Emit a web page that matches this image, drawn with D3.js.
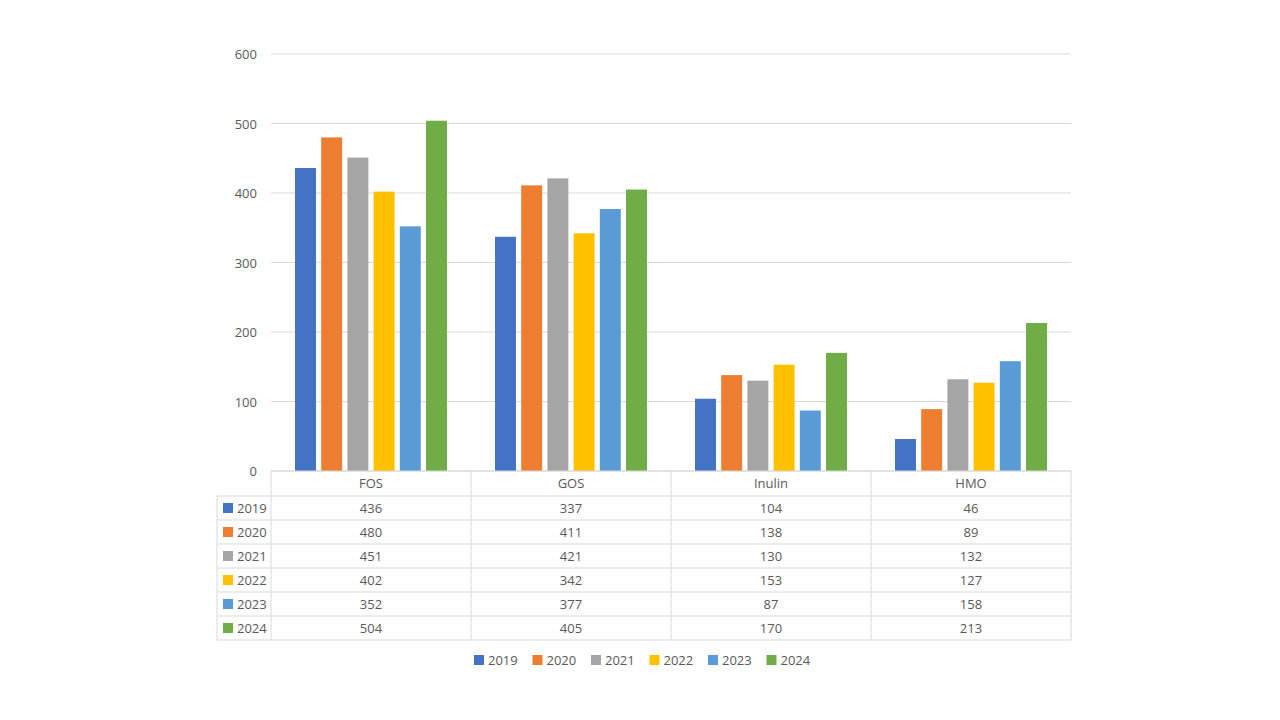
<!DOCTYPE html>
<html><head><meta charset="utf-8">
<script src="https://cdn.jsdelivr.net/npm/d3@7"></script>
<style>body{margin:0;background:#fff;font-family:"Open Sans",sans-serif;}</style>
</head><body><div class="chart"></div>
<script>
const categories = ['FOS', 'GOS', 'Inulin', 'HMO'];
const years = ['2019', '2020', '2021', '2022', '2023', '2024'];
const values = [
    [436, 337, 104, 46],
    [480, 411, 138, 89],
    [451, 421, 130, 132],
    [402, 342, 153, 127],
    [352, 377, 87, 158],
    [504, 405, 170, 213]
];
const yTicks = [0, 100, 200, 300, 400, 500, 600];
const colors = ['#4472C4', '#ED7D31', '#A5A5A5', '#FFC000', '#5B9BD5', '#70AD47'];

const svg = d3.select('.chart').append('svg')
    .attr('width', 1280).attr('height', 720);
const pLeft = 271, pRight = 1071, pTop = 54, pBottom = 471;
const xScale = d3.scaleBand().domain(categories).range([pLeft, pRight]);
const xInner = d3.scaleBand().domain(years).range([24, 176]).paddingInner(0.2);
const yScale = d3.scaleLinear().domain([0, 600]).range([pBottom, pTop]);
const color = d3.scaleOrdinal().domain(years).range(colors);
const txt = '#595959';

svg.append('g').selectAll('line').data(yTicks).enter().append('line')
    .attr('x1', pLeft).attr('x2', pRight)
    .attr('y1', d => yScale(d)).attr('y2', d => yScale(d))
    .attr('stroke', '#d9d9d9');
svg.append('g').selectAll('text').data(yTicks).enter().append('text')
    .attr('x', 257).attr('y', d => yScale(d) + 5)
    .attr('text-anchor', 'end').attr('font-size', 13).attr('fill', txt)
    .text(d => d);

years.forEach((yr, i) => {
    svg.append('g').selectAll('rect').data(values[i]).enter().append('rect')
        .attr('x', (d, j) => xScale(categories[j]) + xInner(yr))
        .attr('width', xInner.bandwidth())
        .attr('y', d => yScale(d))
        .attr('height', d => pBottom - yScale(d))
        .attr('fill', color(yr));
});

// data table
const rowH = 24, headH = 25, tLeft = 217;
const tb = svg.append('g').attr('stroke', '#d9d9d9').attr('fill', 'none');
tb.append('line').attr('x1', pLeft).attr('x2', pRight).attr('y1', pBottom).attr('y2', pBottom);
for (let r = 0; r <= years.length; r++) {
    const y = pBottom + headH + r * rowH;
    tb.append('line').attr('x1', tLeft).attr('x2', pRight).attr('y1', y).attr('y2', y);
}
const tBottom = pBottom + headH + years.length * rowH;
tb.append('line').attr('x1', tLeft).attr('x2', tLeft).attr('y1', pBottom + headH).attr('y2', tBottom);
categories.forEach(c => {
    tb.append('line').attr('x1', xScale(c)).attr('x2', xScale(c)).attr('y1', pBottom).attr('y2', tBottom);
});
tb.append('line').attr('x1', pRight).attr('x2', pRight).attr('y1', pBottom).attr('y2', tBottom);

svg.append('g').selectAll('text').data(categories).enter().append('text')
    .attr('x', d => xScale(d) + xScale.bandwidth() / 2).attr('y', pBottom + 17)
    .attr('text-anchor', 'middle').attr('font-size', 13).attr('fill', txt).text(d => d);
years.forEach((yr, i) => {
    const cy = pBottom + headH + i * rowH + rowH / 2;
    svg.append('rect').attr('x', 223).attr('y', cy - 5).attr('width', 10).attr('height', 10).attr('fill', color(yr));
    svg.append('text').attr('x', 237).attr('y', cy + 5).attr('font-size', 13).attr('fill', txt).text(yr);
    svg.append('g').selectAll('text').data(values[i]).enter().append('text')
        .attr('x', (d, j) => xScale(categories[j]) + xScale.bandwidth() / 2).attr('y', cy + 5)
        .attr('text-anchor', 'middle').attr('font-size', 13).attr('fill', txt).text(d => d);
});

// legend
const lg = svg.append('g');
years.forEach((yr, i) => {
    const x = 474 + i * 58.5;
    lg.append('rect').attr('x', x).attr('y', 655).attr('width', 10).attr('height', 10).attr('fill', color(yr));
    lg.append('text').attr('x', x + 14).attr('y', 665).attr('font-size', 13).attr('fill', txt).text(yr);
});
</script></body></html>
